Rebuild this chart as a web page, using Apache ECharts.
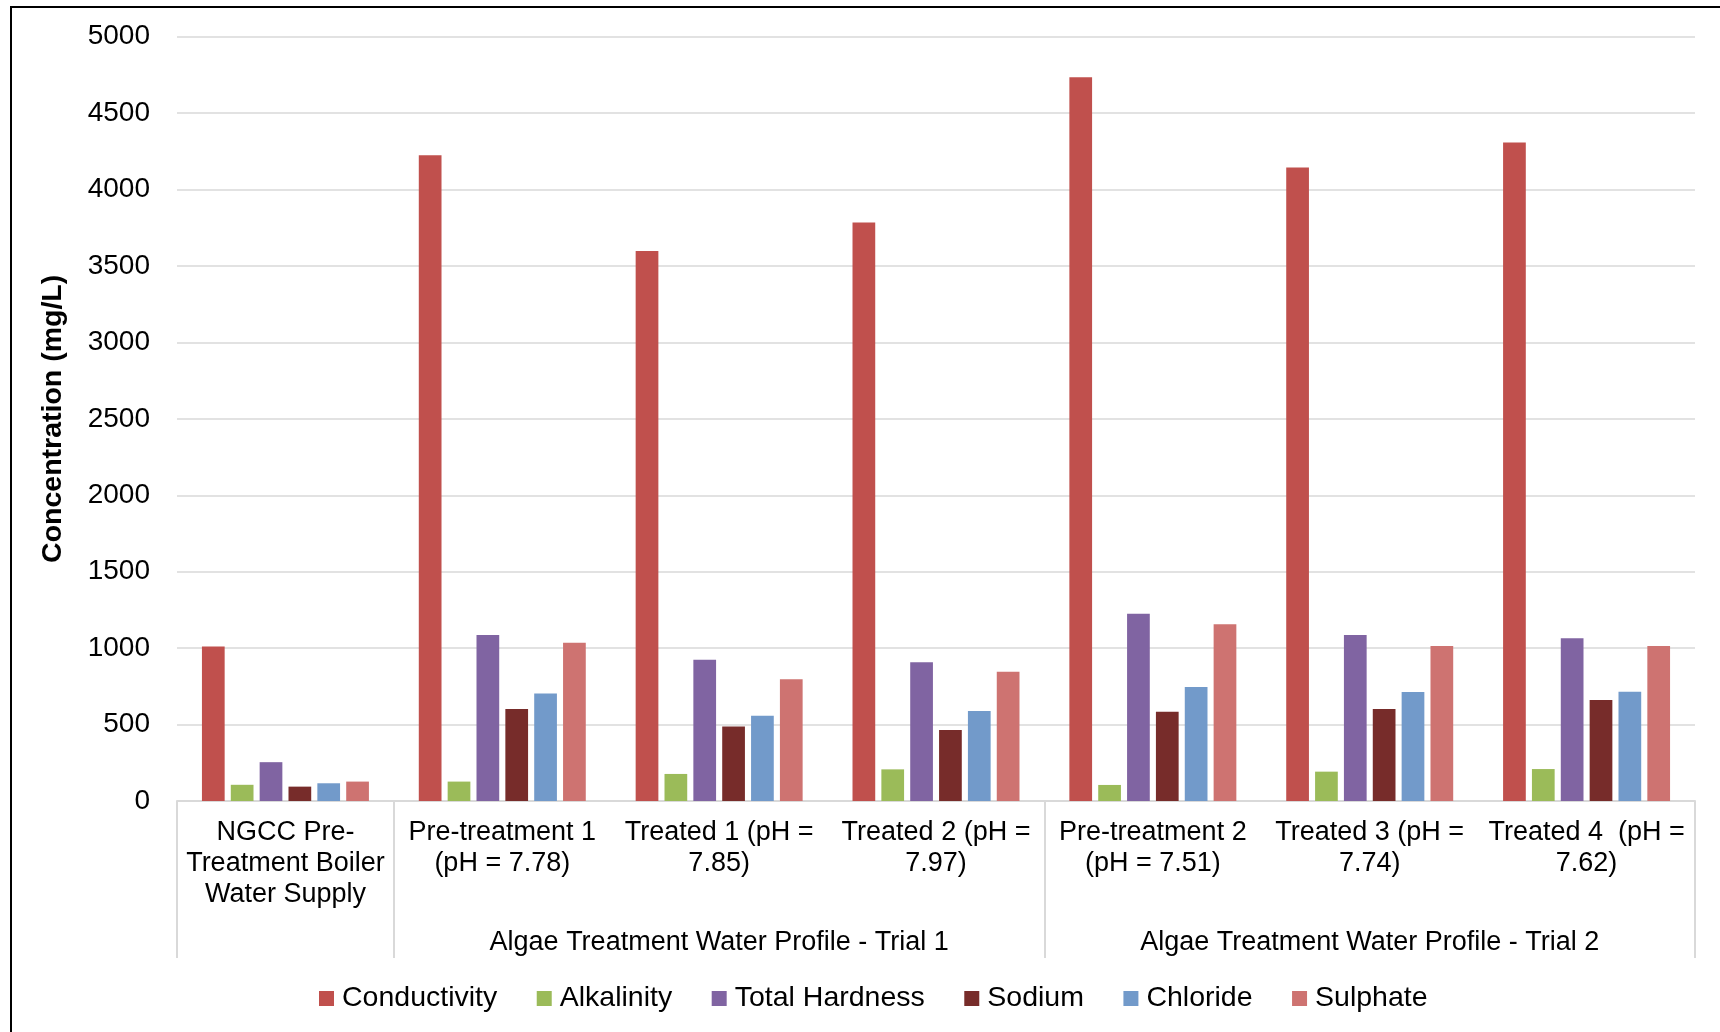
<!DOCTYPE html>
<html>
<head>
<meta charset="utf-8">
<script src="https://cdn.jsdelivr.net/npm/echarts@6/dist/echarts.min.js"></script>
<style>
html,body{margin:0;padding:0;background:#fff;}
#chart{width:1720px;height:1032px;}
</style>
</head>
<body>
<div id="chart"></div>
<script>
const categories = [
  'NGCC Pre-\nTreatment Boiler\nWater Supply',
  'Pre-treatment 1\n(pH = 7.78)',
  'Treated 1 (pH =\n7.85)',
  'Treated 2 (pH =\n7.97)',
  'Pre-treatment 2\n(pH = 7.51)',
  'Treated 3 (pH =\n7.74)',
  'Treated 4  (pH =\n7.62)'
];
const groupNames = ['', 'Algae Treatment Water Profile - Trial 1', 'Algae Treatment Water Profile - Trial 2'];
const groupSpans = [1, 3, 3];

const seriesNames = ['Conductivity', 'Alkalinity', 'Total Hardness', 'Sodium', 'Chloride', 'Sulphate'];
const conductivity = [1010, 4225, 3598, 3785, 4735, 4145, 4308];
const alkalinity   = [106, 127, 177, 207, 105, 192, 209];
const totalHardness = [254, 1086, 924, 907, 1225, 1086, 1064];
const sodium       = [94, 602, 488, 464, 584, 602, 661];
const chloride     = [116, 704, 558, 589, 746, 713, 715];
const sulphate     = [127, 1035, 796, 846, 1156, 1014, 1014];
const yTicks = { min: 0, max: 5000, interval: 500 };

const colors = ['#C0504D', '#9BBB59', '#8064A2', '#772C2A', '#729ACA', '#CE7371'];
const seriesData = [conductivity, alkalinity, totalHardness, sodium, chloride, sulphate];

// build the group axis labels (label at middle category of each group) and boundary tick indices
const groupAxisData = [];
const boundaryIdx = new Set();
let start = 0;
groupSpans.forEach((span, g) => {
  boundaryIdx.add(start);
  for (let k = 0; k < span; k++) {
    groupAxisData.push(k === Math.floor(span / 2) ? groupNames[g] : '');
  }
  start += span;
});

const FONT = '"Liberation Sans", Arial, sans-serif';
const chart = echarts.init(document.getElementById('chart'), null, { renderer: 'canvas' });

chart.setOption({
  animation: false,
  backgroundColor: '#ffffff',
  color: colors,
  textStyle: { fontFamily: FONT, color: '#000' },
  graphic: [{
    type: 'rect',
    shape: { x: 11, y: 7, width: 1800, height: 1100 },
    style: { fill: 'none', stroke: '#000', lineWidth: 2 },
    silent: true
  }],
  grid: { left: 177, right: 25, top: 36.7, bottom: 231, containLabel: false },
  legend: {
    left: 314,
    top: 979,
    itemWidth: 15,
    itemHeight: 15,
    itemGap: 39.5,
    icon: 'rect',
    textStyle: { fontFamily: FONT, fontSize: 28.5, color: '#000', padding: [0, 0, 0, 3] },
    data: seriesNames
  },
  xAxis: [{
    type: 'category',
    data: categories,
    position: 'bottom',
    axisLine: { show: true, lineStyle: { color: '#D9D9D9', width: 2 } },
    axisTick: { show: false },
    axisLabel: { interval: 0, fontFamily: FONT, fontSize: 27, lineHeight: 31, color: '#000', margin: 16 }
  }, {
    type: 'category',
    data: groupAxisData,
    position: 'bottom',
    axisLine: { show: false },
    axisTick: {
      show: true,
      length: 157,
      interval: function (index) { return boundaryIdx.has(index); },
      lineStyle: { color: '#D9D9D9', width: 2 }
    },
    axisLabel: { interval: 0, fontFamily: FONT, fontSize: 27, color: '#000', margin: 128 }
  }],
  yAxis: {
    type: 'value',
    min: yTicks.min,
    max: yTicks.max,
    interval: yTicks.interval,
    name: 'Concentration (mg/L)',
    nameLocation: 'middle',
    nameGap: 109,
    nameTextStyle: { fontFamily: FONT, fontSize: 28.5, fontWeight: 'bold', color: '#000' },
    axisLine: { show: false },
    axisTick: { show: false },
    axisLabel: { fontFamily: FONT, fontSize: 28, color: '#000', margin: 27, formatter: (v) => String(v) },
    splitLine: { lineStyle: { color: '#D9D9D9', width: 1.5 } }
  },
  series: seriesNames.map((name, i) => ({
    name: name,
    type: 'bar',
    xAxisIndex: 0,
    data: seriesData[i],
    barGap: '27%',
    barCategoryGap: '23%',
    itemStyle: { color: colors[i] }
  }))
});
</script>
</body>
</html>
